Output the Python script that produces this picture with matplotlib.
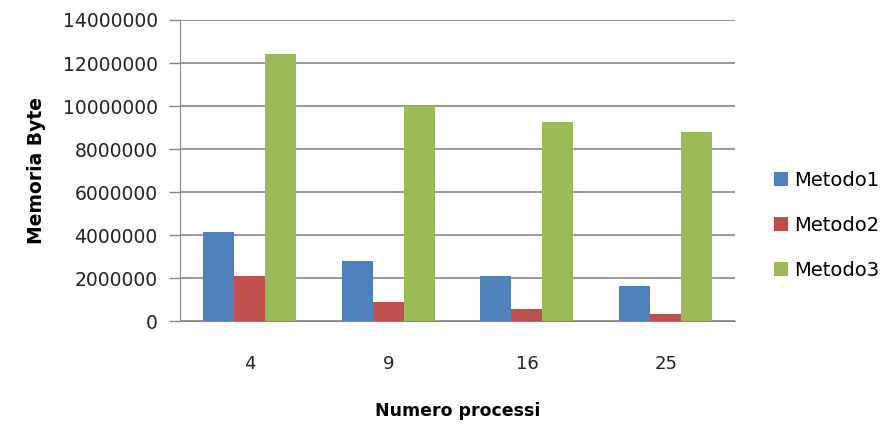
import matplotlib.pyplot as plt
import numpy as np

categories = ['4', '9', '16', '25']
metodo1 = [4150000, 2800000, 2100000, 1640000]
metodo2 = [2100000, 900000, 570000, 340000]
metodo3 = [12420000, 10000000, 9260000, 8800000]
series_names = ['Metodo1', 'Metodo2', 'Metodo3']
colors = ['#4F81BD', '#C0504D', '#9BBB59']

fig = plt.figure(figsize=(8.92, 4.25), dpi=100)
ax = fig.add_axes([0.2018, 0.244, 0.6222, 0.709])

x = np.arange(len(categories))
w = 0.2234
for i, (vals, name, col) in enumerate(zip([metodo1, metodo2, metodo3], series_names, colors)):
    ax.bar(x + (i - 1) * w, vals, width=w, color=col, label=name, zorder=3)

ax.set_xlim(-0.5, len(categories) - 0.5)
ax.set_ylim(0, 14000000)
ax.set_yticks(np.arange(0, 14000001, 2000000))
ax.set_yticklabels([str(v) for v in range(0, 14000001, 2000000)], fontsize=13.5, color='#222222')
ax.set_xticks(x)
ax.set_xticklabels(categories, fontsize=13, color='#222222')
ax.tick_params(axis='x', length=0, pad=24)
ax.tick_params(axis='y', length=8, color='#868686', width=1, pad=8)
ax.yaxis.grid(True, color='#868686', linewidth=1.2, zorder=0)
ax.set_axisbelow(True)
for s in ['top', 'right']:
    ax.spines[s].set_visible(False)
ax.spines['left'].set_color('#868686')
ax.spines['bottom'].set_color('#868686')

ax.set_ylabel('Memoria Byte', fontsize=13.5, fontweight='bold', labelpad=12)
ax.set_xlabel('Numero processi', fontsize=12.5, fontweight='bold', labelpad=21)

handles, labels = ax.get_legend_handles_labels()
fig.legend(handles, labels, loc='center left', bbox_to_anchor=(0.848, 0.47),
           frameon=False, fontsize=14, handlelength=0.7, handleheight=0.7,
           handletextpad=0.35, labelspacing=1.33)

fig.savefig('out.png', dpi=100)
